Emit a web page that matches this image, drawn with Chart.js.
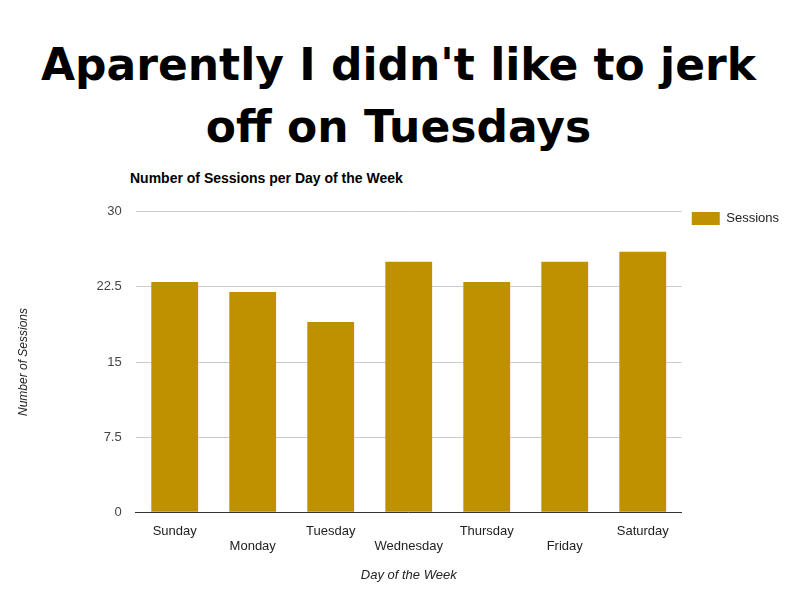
<!DOCTYPE html>
<html>
<head>
<meta charset="utf-8">
<script src="https://cdn.jsdelivr.net/npm/chart.js@4.4.1/dist/chart.umd.min.js"></script>
<style>
  body { margin: 0; background: #fff; width: 797px; height: 591px; overflow: hidden; position: relative; font-family: "Liberation Sans", Arial, sans-serif; }
  #headline { position: absolute; left: 0; top: 34px; width: 797px; text-align: center; font-family: "DejaVu Sans", sans-serif; font-weight: bold; font-size: 44px; line-height: 62px; color: #000; letter-spacing: 0px; }
  #sub { position: absolute; left: 130px; top: 170px; font-weight: bold; font-size: 14px; color: #000; }
  #wrap { position: absolute; left: 0; top: 190px; width: 797px; height: 401px; }
</style>
</head>
<body>
<div id="headline">Aparently I didn't like to jerk<br>off on Tuesdays</div>
<div id="sub">Number of Sessions per Day of the Week</div>
<div id="wrap"><canvas id="chart"></canvas></div>
<script>
const days = ['Sunday', 'Monday', 'Tuesday', 'Wednesday', 'Thursday', 'Friday', 'Saturday'];
const sessions = [23, 22, 19, 25, 23, 25, 26];
const yTicks = [0, 7.5, 15, 22.5, 30];

const font = { family: '"Liberation Sans", Arial, sans-serif', size: 13 };

new Chart(document.getElementById('chart'), {
    type: 'bar',
    data: {
        labels: days,
        datasets: [{
            label: 'Sessions',
            data: sessions,
            backgroundColor: '#bf9000',
            barPercentage: 0.6,
            categoryPercentage: 1
        }]
    },
    options: {
        responsive: true,
        maintainAspectRatio: false,
        animation: false,
        layout: { padding: { top: 12, left: 12, right: 8, bottom: 4 } },
        scales: {
            x: {
                grid: { display: false },
                border: { color: '#333' },
                ticks: {
                    color: '#222', font: font, maxRotation: 0, autoSkip: false,
                    callback: (v, i) => i % 2 ? ['', days[i]] : [days[i], '']
                },
                title: { display: true, text: 'Day of the Week', color: '#222', font: { ...font, style: 'italic' }, padding: { top: 10 } }
            },
            y: {
                min: 0, max: 30,
                afterBuildTicks: axis => { axis.ticks = yTicks.map(v => ({ value: v })); },
                grid: { color: '#cccccc', drawTicks: false },
                border: { display: false },
                ticks: { color: '#444', font: font, padding: 14 },
                title: { display: true, text: 'Number of Sessions', color: '#222', font: { ...font, size: 12, style: 'italic' }, padding: { bottom: 52 } }
            }
        },
        plugins: {
            legend: {
                position: 'right', align: 'start',
                labels: { color: '#222', font: font, boxWidth: 28, boxHeight: 13 }
            },
            tooltip: { enabled: false }
        }
    }
});
</script>
</body>
</html>
